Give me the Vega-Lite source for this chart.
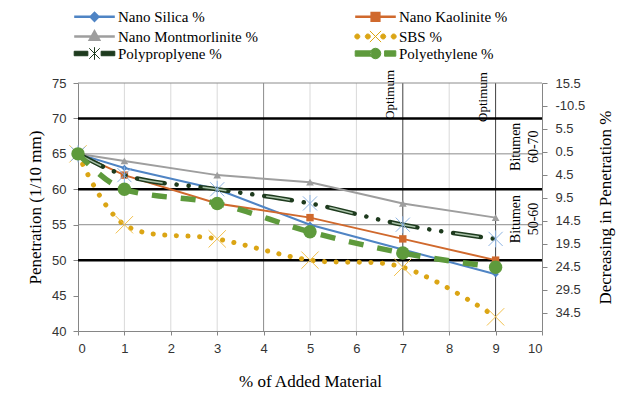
{
  "$schema": "https://vega.github.io/schema/vega-lite/v6.json",
  "width": 464,
  "height": 248,
  "autosize": {"type": "none"},
  "padding": {"left": 78, "top": 83, "right": 78, "bottom": 83},
  "background": "white",
  "config": {
    "view": {"stroke": null},
    "axis": {"grid": false, "titleFont": "Liberation Serif", "titleFontSize": 17, "titleFontWeight": "normal", "titleColor": "black"},
    "axisX": {"titleFont": "Liberation Serif", "titleFontSize": 17, "titleFontWeight": "normal"},
    "axisBottom": {"titleFont": "Liberation Serif", "titleFontSize": 17, "titleFontWeight": "normal"}
  },
  "datasets": {
    "pts": [
      {"s": "Nano Silica %", "x": 0, "p": 65}, {"s": "Nano Silica %", "x": 1, "p": 63}, {"s": "Nano Silica %", "x": 3, "p": 60}, {"s": "Nano Silica %", "x": 5, "p": 55}, {"s": "Nano Silica %", "x": 7, "p": 51.5}, {"s": "Nano Silica %", "x": 9, "p": 48},
      {"s": "Nano Kaolinite %", "x": 0, "p": 65}, {"s": "Nano Kaolinite %", "x": 1, "p": 62}, {"s": "Nano Kaolinite %", "x": 3, "p": 58}, {"s": "Nano Kaolinite %", "x": 5, "p": 56}, {"s": "Nano Kaolinite %", "x": 7, "p": 53}, {"s": "Nano Kaolinite %", "x": 9, "p": 50},
      {"s": "Nano Montmorlinite %", "x": 0, "p": 65}, {"s": "Nano Montmorlinite %", "x": 1, "p": 64}, {"s": "Nano Montmorlinite %", "x": 3, "p": 62}, {"s": "Nano Montmorlinite %", "x": 5, "p": 61}, {"s": "Nano Montmorlinite %", "x": 7, "p": 58}, {"s": "Nano Montmorlinite %", "x": 9, "p": 56},
      {"s": "SBS %", "x": 0, "p": 65}, {"s": "SBS %", "x": 1, "p": 55}, {"s": "SBS %", "x": 3, "p": 53}, {"s": "SBS %", "x": 5, "p": 50}, {"s": "SBS %", "x": 7, "p": 49}, {"s": "SBS %", "x": 9, "p": 42},
      {"s": "Polyproplyene %", "x": 0, "p": 65}, {"s": "Polyproplyene %", "x": 1, "p": 62}, {"s": "Polyproplyene %", "x": 3, "p": 60}, {"s": "Polyproplyene %", "x": 5, "p": 58}, {"s": "Polyproplyene %", "x": 7, "p": 55}, {"s": "Polyproplyene %", "x": 9, "p": 53},
      {"s": "Polyethylene %", "x": 0, "p": 65}, {"s": "Polyethylene %", "x": 1, "p": 60}, {"s": "Polyethylene %", "x": 3, "p": 58}, {"s": "Polyethylene %", "x": 5, "p": 54}, {"s": "Polyethylene %", "x": 7, "p": 51}, {"s": "Polyethylene %", "x": 9, "p": 49}
    ],
    "gh": [{"p": 75}, {"p": 65}, {"p": 55}],
    "bh": [{"p": 70}, {"p": 60}, {"p": 50}],
    "vl": [{"x": 1}, {"x": 2}, {"x": 3}, {"x": 5}, {"x": 6}, {"x": 8}],
    "vm": [{"x": 4}],
    "vd": [{"x": 7}, {"x": 9}],
    "opt": [{"x": 7, "p": 69.8, "t": "Optimum"}, {"x": 9, "p": 69.5, "t": "Optimum"}],
    "bit": [{"x": 9.45, "p": 66, "t": "Bitumen\n60-70"}, {"x": 9.45, "p": 55.8, "t": "Bitumen\n50-60"}],
    "rax": [{"d": -15.5}, {"d": 38.5}]
  },
  "layer": [
    {
      "data": {"name": "vl"},
      "mark": {"type": "rule", "color": "#D9D9D9", "strokeWidth": 1},
      "encoding": {
        "x": {"field": "x", "type": "quantitative", "scale": {"domain": [0, 10], "nice": false, "zero": false},
          "title": "% of Added Material",
          "axis": {"orient": "bottom", "values": [0,1,2,3,4,5,6,7,8,9,10], "format": "d", "domainColor": "#868686", "tickColor": "#868686", "tickSize": 4, "labelPadding": 7, "labelFont": "Liberation Sans", "labelFontSize": 13, "labelColor": "#333333", "titleFont": "Liberation Serif", "titleFontSize": 17, "titleFontWeight": "normal", "titleColor": "black", "titleX": 232, "titleY": 50, "titleAlign": "center", "titleBaseline": "middle"}}
      }
    },
    {
      "data": {"name": "vm"},
      "mark": {"type": "rule", "color": "#8C8C8C", "strokeWidth": 1},
      "encoding": {"x": {"field": "x", "type": "quantitative", "scale": {"domain": [0, 10], "nice": false, "zero": false}, "axis": null}}
    },
    {
      "data": {"name": "vd"},
      "mark": {"type": "rule", "color": "#404040", "strokeWidth": 1},
      "encoding": {"x": {"field": "x", "type": "quantitative", "scale": {"domain": [0, 10], "nice": false, "zero": false}, "axis": null}}
    },
    {
      "data": {"name": "gh"},
      "mark": {"type": "rule", "color": "#8C8C8C", "strokeWidth": 1},
      "encoding": {
        "y": {"field": "p", "type": "quantitative", "scale": {"domain": [40, 75], "nice": false, "zero": false},
          "title": "Penetration (1/10 mm)",
          "axis": {"orient": "left", "values": [40,45,50,55,60,65,70,75], "domainColor": "#868686", "tickColor": "#868686", "tickSize": 5, "labelPadding": 7, "labelFont": "Liberation Sans", "labelFontSize": 13, "labelColor": "#333333", "titleFont": "Liberation Serif", "titleFontSize": 17, "titleFontWeight": "normal", "titleColor": "black", "titleAngle": 270, "titleX": -43, "titleY": 124, "titleAlign": "center", "titleBaseline": "middle"}}
      }
    },
    {
      "data": {"name": "bh"},
      "mark": {"type": "rule", "color": "black", "strokeWidth": 2.5},
      "encoding": {"y": {"field": "p", "type": "quantitative", "scale": {"domain": [40, 75], "nice": false, "zero": false}, "axis": null}}
    },
    {
      "data": {"name": "pts"},
      "transform": [{"filter": "datum.s == 'Nano Silica %'"}],
      "mark": {"type": "line", "color": "#4F84C4", "strokeWidth": 2},
      "encoding": {
        "x": {"field": "x", "type": "quantitative", "scale": {"domain": [0, 10], "nice": false, "zero": false}, "axis": null},
        "y": {"field": "p", "type": "quantitative", "scale": {"domain": [40, 75], "nice": false, "zero": false}, "axis": null}
      }
    },
    {
      "data": {"name": "pts"},
      "transform": [{"filter": "datum.s == 'Nano Silica %'"}],
      "mark": {"type": "point", "shape": "diamond", "filled": true, "size": 40, "color": "#4F84C4", "opacity": 1},
      "encoding": {
        "x": {"field": "x", "type": "quantitative", "scale": {"domain": [0, 10], "nice": false, "zero": false}, "axis": null},
        "y": {"field": "p", "type": "quantitative", "scale": {"domain": [40, 75], "nice": false, "zero": false}, "axis": null}
      }
    },
    {
      "data": {"name": "pts"},
      "transform": [{"filter": "datum.s == 'Nano Kaolinite %'"}],
      "mark": {"type": "line", "color": "#D0692D", "strokeWidth": 2},
      "encoding": {
        "x": {"field": "x", "type": "quantitative", "scale": {"domain": [0, 10], "nice": false, "zero": false}, "axis": null},
        "y": {"field": "p", "type": "quantitative", "scale": {"domain": [40, 75], "nice": false, "zero": false}, "axis": null}
      }
    },
    {
      "data": {"name": "pts"},
      "transform": [{"filter": "datum.s == 'Nano Kaolinite %'"}],
      "mark": {"type": "point", "shape": "square", "filled": true, "size": 55, "color": "#D0692D", "opacity": 1},
      "encoding": {
        "x": {"field": "x", "type": "quantitative", "scale": {"domain": [0, 10], "nice": false, "zero": false}, "axis": null},
        "y": {"field": "p", "type": "quantitative", "scale": {"domain": [40, 75], "nice": false, "zero": false}, "axis": null}
      }
    },
    {
      "data": {"name": "pts"},
      "transform": [{"filter": "datum.s == 'Nano Montmorlinite %'"}],
      "mark": {"type": "line", "color": "#9E9E9E", "strokeWidth": 2},
      "encoding": {
        "x": {"field": "x", "type": "quantitative", "scale": {"domain": [0, 10], "nice": false, "zero": false}, "axis": null},
        "y": {"field": "p", "type": "quantitative", "scale": {"domain": [40, 75], "nice": false, "zero": false}, "axis": null}
      }
    },
    {
      "data": {"name": "pts"},
      "transform": [{"filter": "datum.s == 'Nano Montmorlinite %'"}],
      "mark": {"type": "point", "shape": "triangle-up", "filled": true, "size": 60, "color": "#9E9E9E", "opacity": 1},
      "encoding": {
        "x": {"field": "x", "type": "quantitative", "scale": {"domain": [0, 10], "nice": false, "zero": false}, "axis": null},
        "y": {"field": "p", "type": "quantitative", "scale": {"domain": [40, 75], "nice": false, "zero": false}, "axis": null}
      }
    },
    {
      "data": {"name": "pts"},
      "transform": [{"filter": "datum.s == 'SBS %'"}],
      "mark": {"type": "line", "color": "#DBA514", "strokeWidth": 5, "strokeCap": "round", "strokeDash": [0.1, 11.5], "interpolate": "catmull-rom"},
      "encoding": {
        "x": {"field": "x", "type": "quantitative", "scale": {"domain": [0, 10], "nice": false, "zero": false}, "axis": null},
        "y": {"field": "p", "type": "quantitative", "scale": {"domain": [40, 75], "nice": false, "zero": false}, "axis": null}
      }
    },
    {
      "data": {"name": "pts"},
      "transform": [{"filter": "datum.s == 'SBS %'"}],
      "mark": {"type": "point", "shape": "M-1,-1L1,1M-1,1L1,-1", "filled": false, "size": 300, "color": "#F2C14E", "strokeWidth": 1, "opacity": 1},
      "encoding": {
        "x": {"field": "x", "type": "quantitative", "scale": {"domain": [0, 10], "nice": false, "zero": false}, "axis": null},
        "y": {"field": "p", "type": "quantitative", "scale": {"domain": [40, 75], "nice": false, "zero": false}, "axis": null}
      }
    },
    {
      "data": {"name": "pts"},
      "transform": [{"filter": "datum.s == 'Polyproplyene %'"}],
      "mark": {"type": "line", "color": "#1E3B1E", "strokeWidth": 4.5, "strokeCap": "round", "strokeDash": [28, 12, 0.1, 12, 0.1, 12], "interpolate": "monotone"},
      "encoding": {
        "x": {"field": "x", "type": "quantitative", "scale": {"domain": [0, 10], "nice": false, "zero": false}, "axis": null},
        "y": {"field": "p", "type": "quantitative", "scale": {"domain": [40, 75], "nice": false, "zero": false}, "axis": null}
      }
    },
    {
      "data": {"name": "pts"},
      "transform": [{"filter": "datum.s == 'Polyproplyene %'"}],
      "mark": {"type": "line", "color": "#A9C2A9", "strokeWidth": 1.5, "strokeCap": "butt", "strokeDash": [24, 40.2], "strokeDashOffset": -2, "interpolate": "monotone"},
      "encoding": {
        "x": {"field": "x", "type": "quantitative", "scale": {"domain": [0, 10], "nice": false, "zero": false}, "axis": null},
        "y": {"field": "p", "type": "quantitative", "scale": {"domain": [40, 75], "nice": false, "zero": false}, "axis": null}
      }
    },
    {
      "data": {"name": "pts"},
      "transform": [{"filter": "datum.s == 'Polyproplyene %'"}],
      "mark": {"type": "point", "shape": "M-1,-1L1,1M-1,1L1,-1M0,-1.2V1.2", "filled": false, "size": 200, "color": "#8DB3E2", "strokeWidth": 1, "opacity": 1},
      "encoding": {
        "x": {"field": "x", "type": "quantitative", "scale": {"domain": [0, 10], "nice": false, "zero": false}, "axis": null},
        "y": {"field": "p", "type": "quantitative", "scale": {"domain": [40, 75], "nice": false, "zero": false}, "axis": null}
      }
    },
    {
      "data": {"name": "pts"},
      "transform": [{"filter": "datum.s == 'Polyethylene %'"}],
      "mark": {"type": "line", "color": "#5E9A3C", "strokeWidth": 5.5, "strokeCap": "butt", "strokeDash": [15, 14], "interpolate": "monotone"},
      "encoding": {
        "x": {"field": "x", "type": "quantitative", "scale": {"domain": [0, 10], "nice": false, "zero": false}, "axis": null},
        "y": {"field": "p", "type": "quantitative", "scale": {"domain": [40, 75], "nice": false, "zero": false}, "axis": null}
      }
    },
    {
      "data": {"name": "pts"},
      "transform": [{"filter": "datum.s == 'Polyethylene %'"}],
      "mark": {"type": "point", "shape": "circle", "filled": true, "size": 180, "color": "#5E9A3C", "opacity": 1},
      "encoding": {
        "x": {"field": "x", "type": "quantitative", "scale": {"domain": [0, 10], "nice": false, "zero": false}, "axis": null},
        "y": {"field": "p", "type": "quantitative", "scale": {"domain": [40, 75], "nice": false, "zero": false}, "axis": null}
      }
    },
    {
      "data": {"name": "opt"},
      "mark": {"type": "text", "angle": 270, "align": "left", "baseline": "alphabetic", "dy": -9, "font": "Liberation Serif", "fontSize": 13, "color": "black"},
      "encoding": {
        "x": {"field": "x", "type": "quantitative", "scale": {"domain": [0, 10], "nice": false, "zero": false}, "axis": null},
        "y": {"field": "p", "type": "quantitative", "scale": {"domain": [40, 75], "nice": false, "zero": false}, "axis": null},
        "text": {"field": "t", "type": "nominal"}
      }
    },
    {
      "data": {"name": "bit"},
      "mark": {"type": "text", "angle": 270, "align": "center", "baseline": "middle", "lineBreak": "\n", "lineHeight": 18, "font": "Liberation Serif", "fontSize": 14, "color": "black"},
      "encoding": {
        "x": {"field": "x", "type": "quantitative", "scale": {"domain": [0, 10], "nice": false, "zero": false}, "axis": null},
        "y": {"field": "p", "type": "quantitative", "scale": {"domain": [40, 75], "nice": false, "zero": false}, "axis": null},
        "text": {"field": "t", "type": "nominal"}
      }
    },
    {
      "data": {"name": "pts"},
      "transform": [{"filter": "datum.x == 0"}],
      "mark": {"type": "point", "filled": true, "opacity": 0},
      "encoding": {
        "x": {"field": "x", "type": "quantitative", "scale": {"domain": [0, 10], "nice": false, "zero": false}, "axis": null},
        "y": {"field": "p", "type": "quantitative", "scale": {"domain": [40, 75], "nice": false, "zero": false}, "axis": null},
        "color": {"field": "s", "type": "nominal",
          "scale": {"domain": ["Nano Silica %", "Nano Kaolinite %", "Nano Montmorlinite %", "SBS %", "Polyproplyene %", "Polyethylene %"],
                    "range": ["#4F84C4", "#D0692D", "#9E9E9E", "#DBA514", "#1E3B1E", "#5E9A3C"]},
          "legend": {"title": null, "orient": "none", "direction": "horizontal", "legendX": 9, "legendY": -74, "columns": 2, "columnPadding": 92, "rowPadding": 0,
            "symbolSize": 196, "symbolOpacity": 1, "symbolStrokeWidth": 2.5, "labelFont": "Liberation Serif", "labelFontSize": 15, "labelColor": "black", "labelOffset": 16,
            "encode": {"symbols": {"update": {
              "fill": {"scale": "color", "field": "value"},
              "stroke": {"scale": "color", "field": "value"},
              "opacity": {"value": 1},
              "strokeWidth": {"signal": "datum.value == 'SBS %' || datum.value == 'Polyproplyene %' || datum.value == 'Polyethylene %' ? 1 : 2.5"}
            }}}}},
        "shape": {"field": "s", "type": "nominal",
          "scale": {"domain": ["Nano Silica %", "Nano Kaolinite %", "Nano Montmorlinite %", "SBS %", "Polyproplyene %", "Polyethylene %"],
                    "range": [
                      "M-2.9,0H2.9M-0.55,0L0,-0.55L0.55,0L0,0.55Z",
                      "M-2.9,0H2.9M-0.55,-0.55H0.55V0.55H-0.55Z",
                      "M-2.9,0H2.9M0,-0.7L0.65,0.45H-0.65Z",
                      "M-2.96,0a0.36,0.36 0 1,0 0.72,0a0.36,0.36 0 1,0 -0.72,0ZM-1.46,0a0.36,0.36 0 1,0 0.72,0a0.36,0.36 0 1,0 -0.72,0ZM0.74,0a0.36,0.36 0 1,0 0.72,0a0.36,0.36 0 1,0 -0.72,0ZM2.24,0a0.36,0.36 0 1,0 0.72,0a0.36,0.36 0 1,0 -0.72,0ZM-0.8,-0.8L0.8,0.8M-0.8,0.8L0.8,-0.8",
                      "M-2.9,-0.32H-0.95V0.32H-2.9ZM0.95,-0.32H2.9V0.32H0.95ZM-0.75,-0.75L0.75,0.75M-0.75,0.75L0.75,-0.75M0,-0.9V0.9",
                      "M-2.9,-0.38H-0.6V0.38H-2.9ZM1.3,-0.38H2.9V0.38H1.3ZM-0.75,0a0.75,0.75 0 1,0 1.5,0a0.75,0.75 0 1,0 -1.5,0Z"
                    ]}}
      }
    },
    {
      "data": {"name": "rax"},
      "mark": {"type": "point", "opacity": 0},
      "encoding": {
        "y": {"field": "d", "type": "quantitative", "scale": {"domain": [-15.5, 38.5], "reverse": true, "nice": false, "zero": false},
          "title": "Decreasing in Penetration %",
          "axis": {"orient": "right", "values": [-15.5, -10.5, -5.5, -0.5, 4.5, 9.5, 14.5, 19.5, 24.5, 29.5, 34.5],
            "labelExpr": "datum.value == -15.5 ? '15.5' : datum.value == -5.5 ? '5.5' : datum.value == -0.5 ? '0.5' : '' + datum.value",
            "domainColor": "#868686", "tickColor": "#868686", "tickSize": 5, "labelPadding": 8, "labelFont": "Liberation Sans", "labelFontSize": 13, "labelColor": "#333333",
            "titleFont": "Liberation Serif", "titleFontSize": 17, "titleFontWeight": "normal", "titleColor": "black", "titleAngle": 270, "titleX": 63, "titleY": 124, "titleAlign": "center", "titleBaseline": "middle"}}
      }
    }
  ],
  "resolve": {"scale": {"y": "independent"}, "axis": {"x": "independent"}}
}
